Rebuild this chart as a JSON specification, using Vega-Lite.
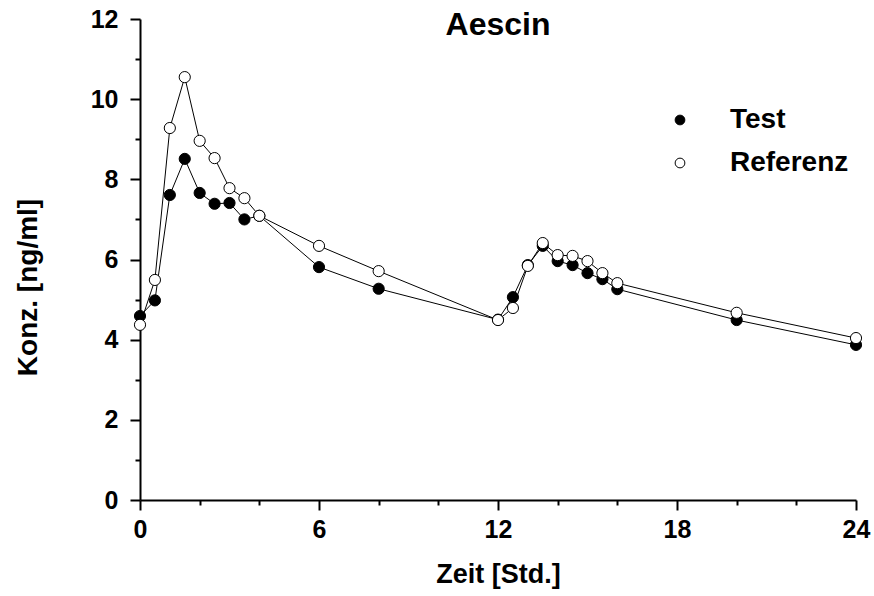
{
  "$schema": "https://vega.github.io/schema/vega-lite/v6.json",
  "width": 716,
  "height": 481,
  "autosize": {"type": "none"},
  "padding": {"left": 140, "top": 19, "right": 18, "bottom": 96},
  "background": "white",
  "config": {
    "view": {"stroke": null},
    "font": "Liberation Sans"
  },
  "title": {
    "text": "Aescin",
    "fontSize": 32,
    "fontWeight": "bold",
    "font": "Liberation Sans",
    "color": "black",
    "anchor": "middle",
    "offset": -35
  },
  "data": {
    "values": [
      {"t": 0, "conc": 4.59, "series": "Test"},
      {"t": 0.5, "conc": 4.98, "series": "Test"},
      {"t": 1, "conc": 7.61, "series": "Test"},
      {"t": 1.5, "conc": 8.51, "series": "Test"},
      {"t": 2, "conc": 7.66, "series": "Test"},
      {"t": 2.5, "conc": 7.39, "series": "Test"},
      {"t": 3, "conc": 7.41, "series": "Test"},
      {"t": 3.5, "conc": 7.0, "series": "Test"},
      {"t": 4, "conc": 7.09, "series": "Test"},
      {"t": 6, "conc": 5.81, "series": "Test"},
      {"t": 8, "conc": 5.27, "series": "Test"},
      {"t": 12, "conc": 4.5, "series": "Test"},
      {"t": 12.5, "conc": 5.06, "series": "Test"},
      {"t": 13, "conc": 5.86, "series": "Test"},
      {"t": 13.5, "conc": 6.34, "series": "Test"},
      {"t": 14, "conc": 5.96, "series": "Test"},
      {"t": 14.5, "conc": 5.86, "series": "Test"},
      {"t": 15, "conc": 5.66, "series": "Test"},
      {"t": 15.5, "conc": 5.51, "series": "Test"},
      {"t": 16, "conc": 5.26, "series": "Test"},
      {"t": 20, "conc": 4.49, "series": "Test"},
      {"t": 24, "conc": 3.87, "series": "Test"},
      {"t": 0, "conc": 4.37, "series": "Referenz"},
      {"t": 0.5, "conc": 5.49, "series": "Referenz"},
      {"t": 1, "conc": 9.28, "series": "Referenz"},
      {"t": 1.5, "conc": 10.55, "series": "Referenz"},
      {"t": 2, "conc": 8.96, "series": "Referenz"},
      {"t": 2.5, "conc": 8.53, "series": "Referenz"},
      {"t": 3, "conc": 7.78, "series": "Referenz"},
      {"t": 3.5, "conc": 7.53, "series": "Referenz"},
      {"t": 4, "conc": 7.09, "series": "Referenz"},
      {"t": 6, "conc": 6.34, "series": "Referenz"},
      {"t": 8, "conc": 5.71, "series": "Referenz"},
      {"t": 12, "conc": 4.49, "series": "Referenz"},
      {"t": 12.5, "conc": 4.79, "series": "Referenz"},
      {"t": 13, "conc": 5.84, "series": "Referenz"},
      {"t": 13.5, "conc": 6.41, "series": "Referenz"},
      {"t": 14, "conc": 6.11, "series": "Referenz"},
      {"t": 14.5, "conc": 6.09, "series": "Referenz"},
      {"t": 15, "conc": 5.96, "series": "Referenz"},
      {"t": 15.5, "conc": 5.66, "series": "Referenz"},
      {"t": 16, "conc": 5.41, "series": "Referenz"},
      {"t": 20, "conc": 4.67, "series": "Referenz"},
      {"t": 24, "conc": 4.04, "series": "Referenz"}
    ]
  },
  "resolve": {"axis": {"x": "independent", "y": "independent"}},
  "layer": [
    {
      "mark": {"type": "line", "color": "black", "strokeWidth": 1},
      "encoding": {
        "x": {
          "field": "t", "type": "quantitative",
          "scale": {"domain": [0, 24], "nice": false, "zero": false},
          "axis": {
            "orient": "bottom",
            "values": [2, 4, 8, 10, 14, 16, 20, 22],
            "labels": false, "title": null, "grid": false,
            "domain": false,
            "tickSize": 5, "tickWidth": 2, "tickColor": "black"
          }
        },
        "y": {
          "field": "conc", "type": "quantitative",
          "scale": {"domain": [0, 12], "nice": false},
          "axis": {
            "orient": "left",
            "values": [1, 3, 5, 7, 9, 11],
            "labels": false, "title": null, "grid": false,
            "domain": false,
            "tickSize": 5, "tickWidth": 2, "tickColor": "black"
          }
        },
        "detail": {"field": "series"}
      }
    },
    {
      "mark": {"type": "point", "shape": "circle", "filled": false, "stroke": "black", "strokeWidth": 1, "size": 125, "opacity": 1},
      "encoding": {
        "x": {
          "field": "t", "type": "quantitative",
          "scale": {"domain": [0, 24], "nice": false, "zero": false},
          "axis": {
            "orient": "bottom",
            "values": [0, 6, 12, 18, 24],
            "grid": false, "labelFlush": false,
            "domainColor": "black", "domainWidth": 2,
            "tickSize": 10, "tickWidth": 2, "tickColor": "black",
            "labelFontSize": 25, "labelFontWeight": "bold", "labelColor": "black",
            "labelFont": "Liberation Sans", "labelPadding": 7,
            "title": "Zeit [Std.]",
            "titleFontSize": 27, "titleFontWeight": "bold", "titleColor": "black",
            "titleFont": "Liberation Sans", "titlePadding": 19
          }
        },
        "y": {
          "field": "conc", "type": "quantitative",
          "scale": {"domain": [0, 12], "nice": false},
          "axis": {
            "orient": "left",
            "values": [0, 2, 4, 6, 8, 10, 12],
            "grid": false, "labelFlush": false,
            "domainColor": "black", "domainWidth": 2,
            "tickSize": 10, "tickWidth": 2, "tickColor": "black",
            "labelFontSize": 25, "labelFontWeight": "bold", "labelColor": "black",
            "labelFont": "Liberation Sans", "labelPadding": 12,
            "title": "Konz. [ng/ml]",
            "titleFontSize": 28, "titleFontWeight": "bold", "titleColor": "black",
            "titleFont": "Liberation Sans", "titlePadding": 48, "titleY": 268
          }
        },
        "fill": {
          "field": "series", "type": "nominal",
          "scale": {"domain": ["Test", "Referenz"], "range": ["black", "white"]},
          "legend": {
            "orient": "none", "legendX": 526, "legendY": 87,
            "direction": "vertical", "title": null,
            "symbolType": "circle", "symbolSize": 95,
            "symbolStrokeColor": "black", "symbolStrokeWidth": 1,
            "symbolOpacity": 1,
            "labelFontSize": 28, "labelFontWeight": "bold", "labelColor": "black",
            "labelFont": "Liberation Sans", "labelOffset": 36,
            "rowPadding": 15, "padding": 0
          }
        }
      }
    }
  ]
}
